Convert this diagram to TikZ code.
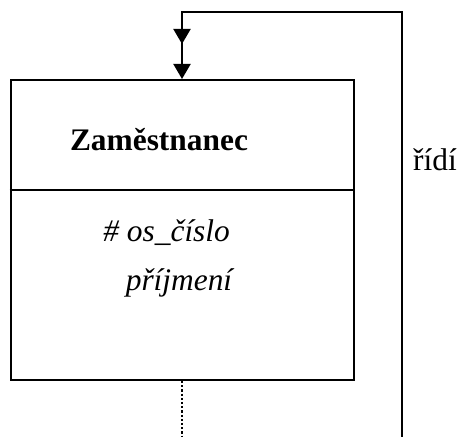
\documentclass[tikz,border=0pt]{standalone}
\usepackage{fontspec}
\setmainfont{Liberation Serif}
\usetikzlibrary{arrows.meta}

\tikzset{
	trida/.style = {rectangle, draw, line width=1pt, minimum width=171.5pt, minimum height=150pt, inner sep=0pt},
	vazba/.style = {line width=1pt},
	sipka/.style = {vazba, -{Triangle[length=7.5pt, width=8.5pt]}},
	popis/.style = {font=\fontsize{15.7pt}{19pt}\selectfont, inner sep=0pt},
}

\begin{document}
\begin{tikzpicture}[x=0.5pt, y=0.5pt]
	\useasboundingbox (0,0) rectangle (471,437);
	% trida a jeji atributy
	\node (zam) at (182, 207)	[trida]	{};
	\draw[line width=0.8pt] (zam.west |- 0,247) -- (zam.east |- 0,247);
	\node (nazev) at (159, 297)	[popis, font=\fontsize{15.7pt}{19pt}\selectfont\bfseries]	{Zaměstnanec};
	\node (cislo) at (103, 204)	[popis, anchor=west]	{\itshape \# os\_číslo};
	\node (prijmeni) at (179, 154)	[popis]	{\itshape příjmení};
	% rekurzivni vazba
	\coordinate (horni) at (182, 425);
	\coordinate (roh) at (402, 425);
	\coordinate (dole) at (402, 0);
	\coordinate (mezi) at (182, 393);
	\coordinate (pata) at (182, 0);
	\draw[vazba] (dole) -- (roh) -- (horni) -- (mezi);
	\draw[sipka] (horni) -- (mezi);
	\draw[sipka] (mezi) -- (zam.north);
	\draw[vazba, line width=1.1pt, densely dotted] (zam.south) -- (pata);
	\node (ridi) at (435, 277)	[popis]	{řídí};
\end{tikzpicture}
\end{document}
